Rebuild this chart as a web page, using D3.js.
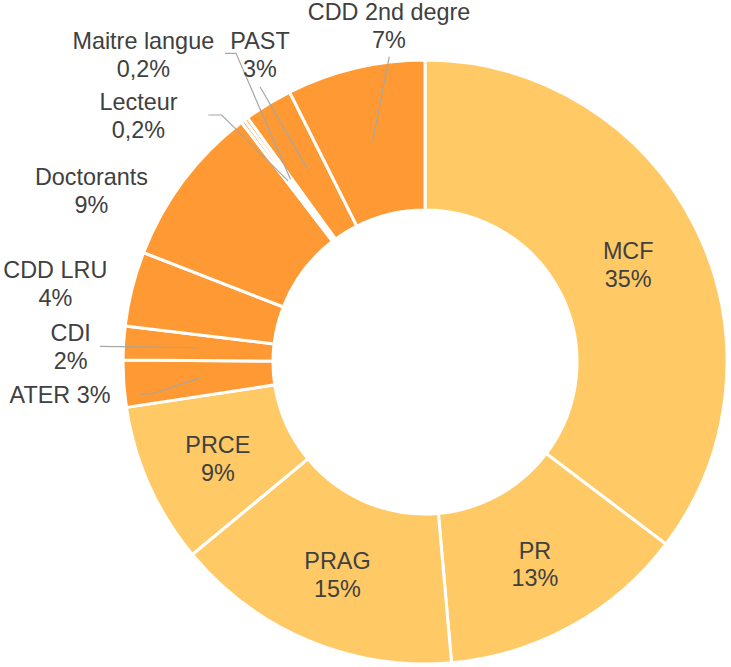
<html>
<script src='https://cdnjs.cloudflare.com/ajax/libs/d3/7.8.5/d3.min.js'></script>
<style>
  body {margin: 0; background: #fff;}
  text {font-family: 'Liberation Sans', Arial, sans-serif; font-size: 23.4px; fill: #404040;}
  .slice {stroke: #fff; stroke-width: 3;}
  .leader {fill: none; stroke: #a6a6a6; stroke-width: 1.2;}
</style>
<body onload='init()'>
<svg width=731 height=667></svg>
<script>
// categories, clockwise from 12 o'clock
var categories = ['MCF','PR','PRAG','PRCE','ATER','CDI','CDD LRU','Doctorants','Lecteur','Maitre langue','PAST','CDD 2nd degre']
// shares in percent
var values = [35.3, 13.3, 15.4, 8.6, 2.5, 1.8, 4.0, 8.7, 0.2, 0.2, 2.6, 7.4]
// printed labels
var pctLabels = ['35%','13%','15%','9%','3%','2%','4%','9%','0,2%','0,2%','3%','7%']
// statutory staff vs contract staff
var groups = ['titulaire','titulaire','titulaire','titulaire','contrat','contrat','contrat','contrat','contrat','contrat','contrat','contrat']

function init() {
  var cx = 425, cy = 362, outerR = 302, innerR = 152
  var lineH = 27.8
  var colour = d3.scaleOrdinal().domain(['titulaire','contrat']).range(['#ffca66','#ff9933'])

  // labels that sit outside the ring, with their leader line
  var outside = {
    'ATER':          {x: 60,    y: 403.3, oneLine: true, pts: [[140,394],[151.7,394]]},
    'CDI':           {x: 70.7,  y: 341,   pts: [[100,346.3]]},
    'CDD LRU':       {x: 55.3,  y: 278.3, pts: null},
    'Doctorants':    {x: 91.5,  y: 185,   pts: null},
    'Lecteur':       {x: 138.5, y: 110,   pts: [[208.3,115],[221.7,115]]},
    'Maitre langue': {x: 143.3, y: 49.3,  pts: [[225,53.3],[236,53.3]]},
    'PAST':          {x: 260,   y: 49.3,  pts: [[260,86.7]]},
    'CDD 2nd degre': {x: 389,   y: 20,    pts: [[389.3,56.7]]}
  }

  var data = categories.map(function(c,i){
    return {name: c, value: values[i], label: pctLabels[i], group: groups[i]}
  })

  var pie = d3.pie().sort(null).value(function(d){return d.value})
  var arc = d3.arc().innerRadius(innerR).outerRadius(outerR)
  var arcs = pie(data)

  var svg = d3.select('svg')
  var g = svg.append('g').attr('transform','translate('+cx+','+cy+')')

  g.selectAll('path.slice').data(arcs).enter()
    .append('path')
    .attr('class','slice')
    .attr('d', arc)
    .attr('fill', function(d){return colour(d.data.group)})

  // leader lines
  var line = d3.line()
  arcs.forEach(function(a){
    var o = outside[a.data.name]
    if (!o || !o.pts) return
    var c = arc.centroid(a)
    var pts = o.pts.map(function(p){return [p[0]-cx, p[1]-cy]})
    pts.push(c)
    g.append('path').attr('class','leader').attr('d', line(pts))
  })

  // labels
  arcs.forEach(function(a){
    var o = outside[a.data.name]
    var t
    if (o) {
      t = svg.append('text').attr('text-anchor','middle')
      if (o.oneLine) {
        t.attr('x', o.x).attr('y', o.y).text(a.data.name + ' ' + a.data.label)
        return
      }
      t.append('tspan').attr('x', o.x).attr('y', o.y).text(a.data.name)
      t.append('tspan').attr('x', o.x).attr('y', o.y + lineH).text(a.data.label)
    } else {
      var c = arc.centroid(a)
      t = g.append('text').attr('text-anchor','middle')
      t.append('tspan').attr('x', c[0]).attr('y', c[1] - 2).text(a.data.name)
      t.append('tspan').attr('x', c[0]).attr('y', c[1] - 2 + lineH).text(a.data.label)
    }
  })
}
</script>
</body>
</html>
